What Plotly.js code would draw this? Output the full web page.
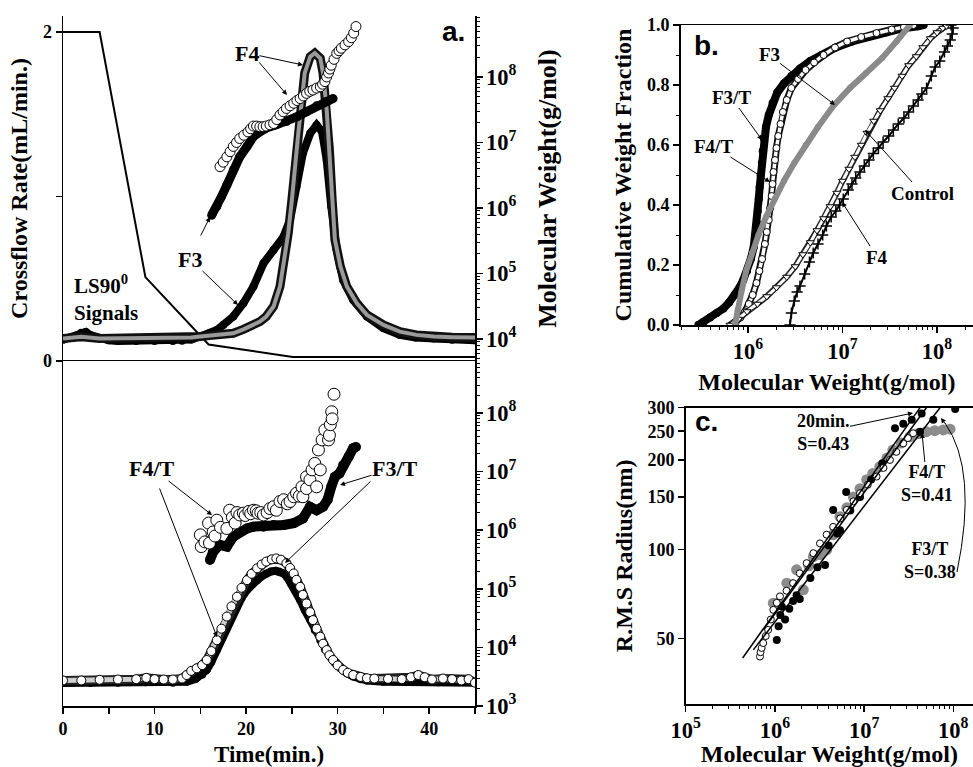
<!DOCTYPE html>
<html><head><meta charset="utf-8">
<script src="https://cdn.plot.ly/plotly-3.0.1.min.js"></script>
<style>html,body{margin:0;padding:0;background:#fff}#chart{width:973px;height:767px}</style>
</head><body><div id="chart"></div>
<script>
// ---------- Panel a (upper): crossflow program ----------
const flowTime = [0, 4, 9, 15.9, 25.1, 45];
const flowRate = [2, 2, 0.51, 0.10, 0.025, 0.025];

// LS 90° signal, F3 (filled) and F4 (open), relative volts
const lsF3Time = [0,1,2,2.5,3,4,5,6,8,10, 12,13,14,15,16,16.8,17.5,18.6,19.7,20.8, 21.9,23.0,24.1,24.8,25.5,26.2,27.0,27.7,28.3,28.8, 29.3,29.9,30.6,31.7,33.2,35.0,36.8,38.5,40.5,42.5, 45];
const lsF3Sig  = [-0.004,0.004,0.018,0.02,0.01,0.0,-0.006,-0.008,-0.008,-0.008, -0.008,-0.007,-0.003,0.006,0.016,0.026,0.042,0.068,0.109,0.161, 0.233,0.274,0.316,0.368,0.471,0.574,0.636,0.662,0.641,0.554, 0.409,0.274,0.181,0.119,0.068,0.032,0.011,0.003,0.0,-0.004, -0.006];
const lsF4Time = [0,2,4,6,8,10, 12,14,15,16,17,18.6, 19.7,20.8,21.5,22.2,23.0,23.7, 24.2,24.6,25.0,25.3,25.7,26.1, 26.4,27.0,27.5,28.1,28.4,28.8, 29.1,29.4,29.7,30.3,31.0,32.1, 33.2,35.0,36.8,38.6,40.5,42.5, 45];
const lsF4Sig  = [0.0,0.005,0.0,0.0,0.0,0.0, 0.0,0.003,0.006,0.009,0.012,0.016, 0.028,0.042,0.052,0.068,0.099,0.161, 0.243,0.326,0.43,0.533,0.636,0.74, 0.823,0.874,0.885,0.869,0.823,0.709, 0.585,0.43,0.306,0.223,0.161,0.109, 0.073,0.042,0.021,0.011,0.006,0.004, 0.003];

// Molecular weight vs time, F3 (filled) and F4 (open)
const mwF3Time = [16.24,16.8,17.3,17.9,18.6,19.3,20.1,20.8,21.5,22.2,23.3,24.4,25.5,26.6,27.7,28.6,29.5];
const mwF3 = [7.76e5,1.05e6,1.48e6,2.24e6,3.80e6,6.03e6,8.71e6,1.23e7,1.45e7,1.66e7,1.86e7,2.09e7,2.45e7,2.95e7,3.63e7,4.17e7,4.68e7];
const mwF4Time = [17.15,17.5,17.9,18.25,18.6,18.95, 19.3,19.75,20.2,20.5,20.8,21.15, 21.5,21.85,22.2,22.6,23.0,23.35, 23.7,24.05,24.4,24.8,25.2,25.55, 25.9,26.25,26.6,26.95,27.3,27.7, 28.1,28.35,28.6,28.8,29.0,29.15, 29.3,29.6,29.9,30.15,30.4,30.8, 31.2,31.5,31.75,32.0];
const mwF4 = [4.27e6,5.01e6,6.03e6,7.24e6,8.71e6,1.00e7, 1.15e7,1.29e7,1.45e7,1.62e7,1.78e7,1.78e7, 1.74e7,1.74e7,1.78e7,1.86e7,1.95e7,2.24e7, 2.63e7,2.95e7,3.31e7,3.63e7,3.98e7,4.37e7, 4.68e7,5.13e7,5.62e7,6.03e7,6.31e7,6.76e7, 7.08e7,7.76e7,8.51e7,1.00e8,1.15e8,1.32e8, 1.51e8,1.86e8,2.29e8,2.51e8,2.75e8,3.09e8, 3.47e8,3.98e8,4.68e8,5.89e8];

// ---------- Panel a (lower): F3/T and F4/T ----------
const lsF4TTime = [0,2,4,6,8,9.1,10,11,12,13, 13.5,14,14.6,15.2,15.7,16.2,16.8,17.3,17.9,18.4, 19.0,19.5,20.1,20.6,21.2,21.7,22.2,22.8,23.3,23.8, 24.4,24.8,25.2,25.5,25.9,26.2,26.6,27.0,27.3,27.7, 28.1,28.4,28.8,29.1,29.5,30.0,30.6,31.1,31.7,32.5, 33.2,34,35.5,37,38,38.8,39.5,40.3,41.5,42.5, 43.5,44.3,45];
const lsF4TSig  = [0.0,0.0,0.002,0.003,0.004,0.008,0.004,0.003,0.003,0.006, 0.017,0.03,0.038,0.048,0.064,0.092,0.126,0.162,0.2,0.232, 0.262,0.29,0.314,0.334,0.351,0.363,0.372,0.379,0.382,0.378, 0.367,0.352,0.335,0.315,0.293,0.268,0.241,0.214,0.189,0.162, 0.137,0.115,0.095,0.079,0.064,0.047,0.033,0.024,0.017,0.011, 0.007,0.006,0.005,0.004,0.01,0.017,0.01,0.003,0.006,0.004, 0.0,0.004,-0.007];
const lsF3TTime = [0,3,6,9,12,13.5,14.5,15.2,15.7,16.2, 16.8,17.3,17.9,18.4,19.0,19.5,20.1,20.6,21.2,21.7, 22.2,22.7,23.2,23.6,24.1,24.5,24.9,25.4,25.9,26.4, 27.0,27.5,28.1,28.6,29.2,29.7,30.3,31.0,31.7,32.5, 33.2,35,38,41,45];
const lsF3TSig  = [-0.008,-0.008,-0.007,-0.006,-0.007,-0.004,0.005,0.018,0.033,0.058, 0.095,0.13,0.168,0.2,0.231,0.258,0.283,0.3,0.314,0.326, 0.335,0.341,0.343,0.341,0.335,0.322,0.304,0.279,0.252,0.221, 0.189,0.158,0.126,0.098,0.074,0.055,0.038,0.023,0.012,0.004, 0.0,-0.004,-0.005,-0.006,-0.007];
const mwF3TTime = [16.05,16.4,17.1,17.9,18.6,19.3,20.1,20.8,21.9,23.0,24.1,25.2,26.2,26.97,27.7,28.4,28.9,29.3,29.7,30.2,30.6,31.2,31.7,32.0];
const mwF3T = [3.09e5,4.27e5,5.62e5,5.25e5,7.76e5,9.33e5,1.07e6,1.15e6,1.15e6,1.23e6,1.23e6,1.32e6,1.58e6,2.51e6,2.19e6,2.51e6,3.31e6,5.50e6,8.13e6,9.33e6,1.29e7,1.78e7,2.51e7,2.63e7];
const mwF4TTime = [15.0,15.1,15.5,15.9,16.0,16.4,16.6,16.8,17.2,17.9, 18.2,18.5,18.8,19.0,19.3,19.7,19.9,20.3,20.5,20.8, 21.1,21.3,21.6,21.9,22.3,22.6,23.0,23.3,23.7,24.1, 24.5,24.8,25.2,25.5,25.8,26.1,26.2,26.6,26.6,26.97, 27.2,27.5,27.7,27.9,28.1,28.3,28.6,29.0,29.1,29.2, 29.35,29.4,29.6];
const mwF4T = [8.32e5,5.25e5,6.31e5,1.32e6,6.03e5,9.33e5,7.94e5,1.48e6,1.12e6,1.07e6, 2.19e6,1.66e6,1.32e6,2.00e6,1.82e6,1.95e6,1.78e6,2.09e6,1.91e6,2.19e6, 2.14e6,1.95e6,2.00e6,1.82e6,2.00e6,2.34e6,2.51e6,2.19e6,3.09e6,3.31e6, 2.82e6,3.09e6,3.72e6,4.27e6,3.80e6,5.50e6,3.72e6,5.13e6,8.13e6,7.24e6, 1.07e7,1.38e7,5.50e6,2.34e7,1.07e7,3.47e7,5.13e7,3.47e7,4.17e7,6.31e7, 1.05e8,7.94e7,2.09e8];

// ---------- Panel b: cumulative weight fraction ----------
const cwF3T_mw = [2.98e5,3.39e5,3.98e5,4.68e5,5.50e5,6.31e5, 7.24e5,8.13e5,8.91e5,9.77e5,1.07e6,1.15e6, 1.20e6,1.24e6,1.27e6,1.30e6,1.33e6,1.36e6, 1.40e6,1.43e6,1.48e6,1.55e6,1.66e6,1.82e6, 2.04e6,2.40e6,2.88e6,3.55e6,4.57e6,6.03e6, 8.51e6,1.26e7,1.91e7,2.82e7,4.17e7,6.31e7, 7.24e7];
const cwF3T = [0,0.01,0.025,0.04,0.055,0.075, 0.10,0.125,0.15,0.18,0.22,0.26, 0.30,0.34,0.38,0.42,0.46,0.50, 0.54,0.58,0.62,0.66,0.70,0.74, 0.775,0.805,0.83,0.855,0.88,0.90, 0.925,0.945,0.962,0.975,0.988,0.996, 1.0];
const cwF4T_mw = [6.61e5,7.41e5,8.32e5,9.33e5,1.02e6,1.12e6, 1.23e6,1.32e6,1.41e6,1.51e6,1.58e6,1.66e6, 1.72e6,1.78e6,1.82e6,1.86e6,1.93e6,2.00e6, 2.09e6,2.21e6,2.34e6,2.57e6,2.88e6,3.39e6, 4.07e6,5.01e6,6.31e6,8.32e6,1.12e7,1.58e7, 2.29e7,3.31e7,4.47e7,5.62e7];
const cwF4T = [0,0.01,0.025,0.045,0.07,0.10, 0.14,0.18,0.22,0.27,0.31,0.35, 0.39,0.43,0.47,0.51,0.55,0.59, 0.63,0.67,0.71,0.75,0.79,0.82, 0.85,0.875,0.90,0.925,0.945,0.96, 0.973,0.985,0.993,1.0];
const cwF3_mw = [7.28e5,7.76e5,8.51e5,9.55e5,1.10e6,1.29e6,1.55e6,1.91e6,2.40e6,3.09e6,4.07e6,5.50e6,8.13e6,1.20e7,1.78e7,2.63e7,3.72e7,5.18e7];
const cwF3 = [0,0.05,0.11,0.18,0.24,0.30,0.36,0.42,0.48,0.54,0.60,0.66,0.733,0.79,0.84,0.89,0.945,1.0];
const cwCtl_mw = [6.46e5,7.94e5,9.77e5,1.26e6,1.58e6,2.00e6,2.57e6,3.16e6,3.80e6,4.57e6, 5.37e6,6.31e6,7.41e6,8.71e6,1.00e7,1.17e7,1.35e7,1.58e7,1.82e7,2.14e7, 2.51e7,3.02e7,3.55e7,4.27e7,5.01e7,6.03e7,7.08e7,8.51e7,1.00e8,1.15e8, 1.26e8];
const cwCtl = [0,0.02,0.045,0.07,0.095,0.125,0.16,0.195,0.235,0.275, 0.315,0.355,0.395,0.44,0.48,0.52,0.56,0.60,0.64,0.68, 0.715,0.755,0.79,0.83,0.865,0.895,0.925,0.955,0.975,0.99, 0.997];
const cwF4_mw = [2.78e6,2.88e6,3.09e6,3.31e6,3.55e6,3.98e6, 4.47e6,4.90e6,5.50e6,6.17e6,6.76e6,7.59e6, 8.51e6,9.33e6,1.02e7,1.15e7,1.26e7,1.38e7, 1.53e7,1.70e7,1.91e7,2.12e7,2.40e7,2.69e7, 3.09e7,3.45e7,3.89e7,4.47e7,5.01e7,5.62e7, 6.31e7,6.92e7,7.76e7,8.71e7,9.55e7,1.07e8, 1.20e8,1.29e8,1.38e8,1.45e8,1.48e8,1.41e8];
const cwF4 = [0,0.04,0.08,0.11,0.13,0.17, 0.21,0.24,0.27,0.30,0.33,0.36, 0.38,0.40,0.42,0.45,0.47,0.49, 0.51,0.53,0.55,0.572,0.59,0.61, 0.63,0.65,0.67,0.69,0.71,0.73, 0.75,0.77,0.79,0.83,0.86,0.88, 0.91,0.93,0.95,0.97,0.99,1.0];

// ---------- Panel c: RMS radius vs molecular weight ----------
const rg20_mw = [9.6e5,1.1e6,1.36e6,1.75e6,2.08e6,2.4e6,2.7e6,3.2e6,3.8e6,4.5e6,5.37e6,6.4e6,7.6e6,9.0e6,1.07e7,1.25e7,1.5e7,1.8e7,2.1e7,2.6e7,3.27e7,4.0e7,5.0e7,6.2e7,7.7e7,9.2e7];
const rg20 = [65.8,66,76.9,85.3,73,88,94.4,96,99.5,112,128.8,138,150,160,171.5,180,189.7,203,216,228,239.5,245,249,251,252.5,254];
const rgF3T_mw = [1.05e6,1.10e6,1.15e6,1.20e6,1.30e6,1.45e6,1.60e6,1.75e6,1.90e6,2.5e6,3.0e6,3.65e6,4.0e6,4.5e6,5.0e6,5.37e6,6.3e6,7.0e6,9.0e6,1.2e7,1.6e7,2.22e7,2.75e7,3.42e7,4.42e7,4.24e7,5.97e7,1.05e8];
const rgF3T = [49.5,55,60,64,58,63,67,70,68,80,87,88.5,103,135.7,113,116,156,135,150,172,195,256,265,273,287,249,273,297];
const rgF4T_mw = [6.8e5,6.9e5,7.1e5,7.4e5,7.9e5,8.4e5,9.0e5,9.6e5,1.05e6,1.14e6,1.35e6,1.6e6,1.9e6,2.27e6,2.7e6,3.2e6,3.8e6,4.5e6,5.4e6,6.4e6,7.6e6,9.0e6,1.1e7,1.38e7,1.65e7,1.95e7,2.3e7,2.75e7,3.1e7,3.55e7];
const rgF4T = [43.5,45,46.5,48.3,51,53.5,58,62.5,66,69.4,72.5,76.9,83,89.8,97,104.7,112,119,127,135.7,145,154.5,165,175.8,188,200,213,227.5,237,246];
const fit20_mw = [4.35e5, 4.24e7];  const fit20 = [43, 300];     // S=0.43
const fitF4T_mw = [7.4e5, 5.0e7];  const fitF4T = [53.5, 300];  // S=0.41
const fitF3T_mw = [5.73e5, 7.1e7]; const fitF3T = [45.8, 300];  // S=0.38

// ---------- styling ----------
const SERIF = 'Liberation Serif, Times New Roman, serif';
const SANS = 'Liberation Sans, Arial, sans-serif';
const TF = {family: SERIF, size: 18, color: '#000', weight: 'bold'};
const W = 973, H = 767;
function titleFont(size) { return {family: SERIF, size: size, color: '#000', weight: 'bold'}; }

const traces = [];
// upper panel a
traces.push({x: flowTime, y: flowRate, xaxis: 'x', yaxis: 'y3', mode: 'lines', line: {color: '#000', width: 2}});
traces.push({x: lsF3Time, y: lsF3Sig, xaxis: 'x', yaxis: 'y2', mode: 'lines+markers', line: {color: '#000', width: 8}, marker: {color: '#000', size: 8}});
traces.push({x: lsF4Time, y: lsF4Sig, xaxis: 'x', yaxis: 'y2', mode: 'lines', line: {color: '#111', width: 9}});
traces.push({x: lsF4Time, y: lsF4Sig, xaxis: 'x', yaxis: 'y2', mode: 'lines', line: {color: '#9a9a9a', width: 4}});
traces.push({x: mwF3Time, y: mwF3, xaxis: 'x', yaxis: 'y4', mode: 'lines+markers', line: {color: '#000', width: 9}, marker: {color: '#000', size: 9}});
traces.push({x: mwF4Time, y: mwF4, xaxis: 'x', yaxis: 'y4', mode: 'markers', marker: {symbol: 'circle', size: 10, color: '#fff', line: {color: '#000', width: 1}}});
// lower panel a
traces.push({x: mwF3TTime, y: mwF3T, xaxis: 'x', yaxis: 'y', mode: 'lines+markers', line: {color: '#000', width: 10}, marker: {color: '#000', size: 10}});
traces.push({x: mwF4TTime, y: mwF4T, xaxis: 'x', yaxis: 'y', mode: 'markers', marker: {symbol: 'circle', size: 12, color: '#fff', line: {color: '#000', width: 1}}});
traces.push({x: lsF3TTime, y: lsF3TSig, xaxis: 'x', yaxis: 'y5', mode: 'lines+markers', line: {color: '#000', width: 8}, marker: {color: '#000', size: 8}});
traces.push({x: lsF4TTime, y: lsF4TSig, xaxis: 'x', yaxis: 'y5', mode: 'lines', line: {color: '#222', width: 9}});
traces.push({x: lsF4TTime, y: lsF4TSig, xaxis: 'x', yaxis: 'y5', mode: 'lines+markers', line: {color: '#d0d0d0', width: 5}, marker: {symbol: 'circle', size: 9, color: '#fff', line: {color: '#000', width: 1}}});
// panel b
traces.push({x: cwF3T_mw, y: cwF3T, xaxis: 'x2', yaxis: 'y6', mode: 'lines+markers', line: {color: '#000', width: 8}, marker: {color: '#000', size: 8}});
traces.push({x: cwF4T_mw, y: cwF4T, xaxis: 'x2', yaxis: 'y6', mode: 'lines', line: {color: '#111', width: 7}});
traces.push({x: cwF4T_mw, y: cwF4T, xaxis: 'x2', yaxis: 'y6', mode: 'lines+markers', line: {color: '#fff', width: 3.5}, marker: {symbol: 'circle', size: 7, color: '#fff', line: {color: '#000', width: 1}}});
traces.push({x: cwCtl_mw, y: cwCtl, xaxis: 'x2', yaxis: 'y6', mode: 'lines', line: {color: '#222', width: 6}});
traces.push({x: cwCtl_mw, y: cwCtl, xaxis: 'x2', yaxis: 'y6', mode: 'lines+markers', line: {color: '#fff', width: 3}, marker: {symbol: 'triangle-down', size: 7, color: '#fff', line: {color: '#000', width: 1}}});
traces.push({x: cwF4_mw, y: cwF4, xaxis: 'x2', yaxis: 'y6', mode: 'lines+markers', line: {color: '#000', width: 2}, marker: {symbol: 'cross-thin', size: 8, color: '#000', line: {color: '#000', width: 1.5}}});
traces.push({x: cwF3_mw, y: cwF3, xaxis: 'x2', yaxis: 'y6', mode: 'lines+markers', line: {color: '#8a8a8a', width: 6}, marker: {color: '#8a8a8a', size: 6}});
// panel c
traces.push({x: rg20_mw, y: rg20, xaxis: 'x3', yaxis: 'y7', mode: 'markers', marker: {color: '#8c8c8c', size: 11}});
traces.push({x: rgF3T_mw, y: rgF3T, xaxis: 'x3', yaxis: 'y7', mode: 'markers', marker: {color: '#000', size: 8}});
traces.push({x: rgF4T_mw, y: rgF4T, xaxis: 'x3', yaxis: 'y7', mode: 'markers', marker: {symbol: 'circle', size: 7, color: '#fff', line: {color: '#000', width: 1}}});
traces.push({x: fit20_mw, y: fit20, xaxis: 'x3', yaxis: 'y7', mode: 'lines', line: {color: '#000', width: 1.5}});
traces.push({x: fitF4T_mw, y: fitF4T, xaxis: 'x3', yaxis: 'y7', mode: 'lines', line: {color: '#000', width: 1.5}});
traces.push({x: fitF3T_mw, y: fitF3T, xaxis: 'x3', yaxis: 'y7', mode: 'lines', line: {color: '#000', width: 1.5}});
traces.forEach(t => { t.showlegend = false; t.hoverinfo = 'skip'; });

const base = {showgrid: false, zeroline: false, showline: true, linecolor: '#000', linewidth: 1.5,
  ticks: 'outside', tickcolor: '#000', tickwidth: 1.5, ticklen: 6, tickfont: TF};
const logMinor = {ticks: 'outside', ticklen: 3, tickwidth: 1, tickcolor: '#000', dtick: 'D1', showgrid: false};

function P(x, y) { return {x: x / W, y: 1 - y / H}; }
function label(text, x, y, size, extra) {
  const p = P(x, y);
  return Object.assign({xref: 'paper', yref: 'paper', x: p.x, y: p.y, text: text, showarrow: false,
    xanchor: 'center', yanchor: 'middle', font: titleFont(size)}, extra || {});
}
// label centred at (lx,ly) with an arrow to (hx,hy)
function arrowLabel(text, lx, ly, hx, hy, size) {
  const p = P(hx, hy);
  return {xref: 'paper', yref: 'paper', x: p.x, y: p.y, ax: lx - hx, ay: ly - hy, axref: 'pixel', ayref: 'pixel',
    text: text, font: titleFont(size), showarrow: true, arrowhead: 2, arrowsize: 1, arrowwidth: 1, arrowcolor: '#000',
    standoff: 0, borderpad: 0};
}
function arrow(tx, ty, hx, hy) {
  const p = P(hx, hy);
  return {xref: 'paper', yref: 'paper', x: p.x, y: p.y, ax: tx - hx, ay: ty - hy, axref: 'pixel', ayref: 'pixel',
    text: '', showarrow: true, arrowhead: 2, arrowsize: 1, arrowwidth: 1, arrowcolor: '#000', standoff: 0, startstandoff: 0};
}
const letterFont = {family: SANS, size: 28, color: '#000', weight: 'bold'};

const annotations = [
  label('a.', 453, 32, 28, {font: letterFont}),
  label('b.', 706, 46, 28, {font: letterFont}),
  label('c.', 706, 421, 28, {font: letterFont}),
  // panel a
  arrowLabel('F4', 247, 53, 303, 65, 22), arrow(258, 61, 287, 95),
  arrowLabel('F3', 190, 259, 238, 305, 22), arrow(200, 237, 210, 217),
  label('LS90<sup>0</sup><br>Signals', 72, 298, 21, {xanchor: 'left', align: 'left'}),
  arrowLabel('F4/T', 152, 468, 212, 515, 22), arrow(159, 487, 217, 637),
  arrowLabel('F3/T', 395, 468, 340, 485, 22), arrow(372, 480, 285, 563),
  // panel b
  arrowLabel('F3', 769, 55, 835, 105, 19),
  arrowLabel('F3/T', 731, 97, 762, 140, 19),
  arrowLabel('F4/T', 713, 146, 770, 182, 19),
  arrowLabel('Control', 922, 193, 865, 130, 19),
  arrowLabel('F4', 877, 257, 842, 202, 19),
  // panel c
  arrowLabel('20min.<br>S=0.43', 823, 432, 913, 413, 18),
  arrowLabel('F4/T<br>S=0.41', 927, 484, 922, 433, 18),
  label('F3/T<br>S=0.38', 930, 560, 18),
  arrow(946, 425, 941, 418)
];

const c0 = P(957, 572), c1 = P(978, 470), c2 = P(945, 423);
const shapes = [{type: 'path', xref: 'paper', yref: 'paper',
  path: `M ${c0.x},${c0.y} Q ${c1.x},${c1.y} ${c2.x},${c2.y}`, line: {color: '#000', width: 1}}];

const layout = {
  width: W, height: H, margin: {l: 0, r: 0, t: 0, b: 0}, showlegend: false,
  paper_bgcolor: '#fff', plot_bgcolor: 'rgba(0,0,0,0)',
  font: {family: SERIF, size: 18, color: '#000'},
  xaxis: Object.assign({}, base, {domain: [63 / W, 475 / W], range: [0, 45], anchor: 'y', mirror: true,
    dtick: 10, tick0: 0, minor: {dtick: 5, ticks: 'outside', ticklen: 6, tickwidth: 1.5, tickcolor: '#000', showgrid: false},
    title: {text: 'Time(min.)', font: titleFont(23), standoff: 8}}),
  xaxis4: {overlaying: 'x', range: [0, 45], anchor: 'y3', side: 'top', showline: true, linecolor: '#000', linewidth: 1.5,
    ticks: '', showticklabels: false, showgrid: false, zeroline: false},
  yaxis: Object.assign({}, base, {domain: [1 - 706 / H, 1 - 361 / H], type: 'log', range: [3, 8.887], anchor: 'x', side: 'right',
    mirror: true, dtick: 1, exponentformat: 'power', minor: logMinor}),
  yaxis3: Object.assign({}, base, {domain: [1 - 361 / H, 1 - 16 / H], range: [0, 2.097], anchor: 'x', side: 'left',
    tickvals: [0, 1, 2], ticktext: ['0', '', '2'],
    title: {text: 'Crossflow Rate(mL/min.)', font: titleFont(24), standoff: 8}}),
  yaxis2: {overlaying: 'y3', range: [-0.07, 1.0], visible: false, anchor: 'x'},
  yaxis4: Object.assign({}, base, {overlaying: 'y3', type: 'log', range: [3.664, 8.931], anchor: 'x', side: 'right',
    dtick: 1, exponentformat: 'power', minor: logMinor,
    title: {text: 'Molecular Weight(g/mol)', font: titleFont(26), standoff: 22}}),
  yaxis5: {overlaying: 'y', range: [-0.08, 1.0], visible: false, anchor: 'x'},
  xaxis2: Object.assign({}, base, {domain: [680.7 / W, 1], type: 'log', range: [5.288, 8.381], anchor: 'y6', mirror: true,
    dtick: 1, exponentformat: 'power', minor: logMinor,
    title: {text: 'Molecular Weight(g/mol)', font: titleFont(24), standoff: 10}}),
  yaxis6: Object.assign({}, base, {domain: [1 - 325 / H, 1 - 25 / H], range: [0, 1], anchor: 'x2', dtick: 0.2, tick0: 0,
    tickformat: '.1f', minor: {dtick: 0.1, ticks: 'outside', ticklen: 3, tickwidth: 1, tickcolor: '#000', showgrid: false},
    title: {text: 'Cumulative Weight Fraction', font: titleFont(24), standoff: 8}}),
  xaxis3: Object.assign({}, base, {domain: [685.7 / W, 1], type: 'log', range: [5, 8.221], anchor: 'y7', mirror: true,
    dtick: 1, exponentformat: 'power', minor: logMinor,
    title: {text: 'Molecular Weight(g/mol)', font: titleFont(24), standoff: 8}}),
  yaxis7: Object.assign({}, base, {domain: [1 - 704 / H, 1 - 407.7 / H], type: 'log', range: [1.4786, 2.4771], anchor: 'x3',
    tickvals: [50, 100, 150, 200, 250, 300], ticktext: ['50', '100', '150', '200', '250', '300'],
    title: {text: 'R.M.S Radius(nm)', font: titleFont(24), standoff: 8}}),
  annotations: annotations,
  shapes: shapes
};

Plotly.newPlot('chart', traces, layout, {staticPlot: true, displayModeBar: false});
</script></body></html>
